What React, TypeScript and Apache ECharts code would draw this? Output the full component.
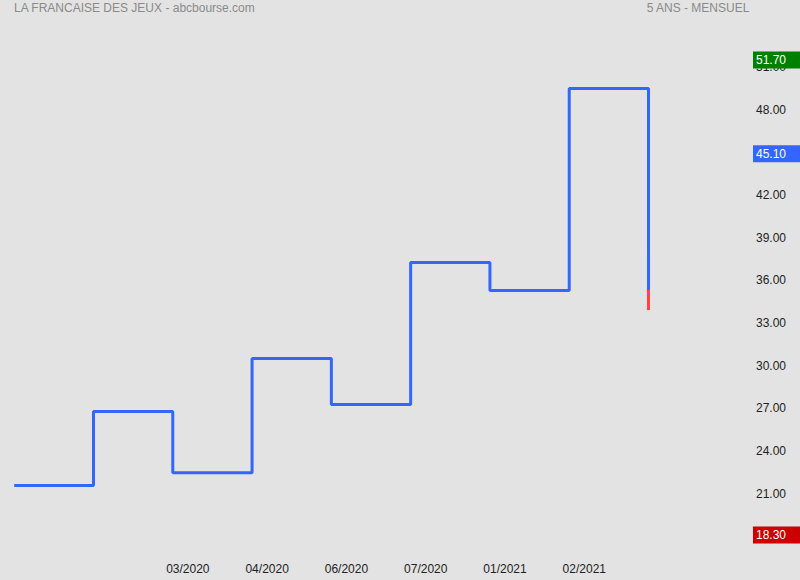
import React, { useEffect, useRef } from "react";
import * as echarts from "echarts";

const levels = [21.56, 26.77, 22.46, 30.49, 27.26, 37.24, 35.28, 49.48];
const lastBlueEnd = 35.31;
const lastLow = 33.9;
const xLabels = ["03/2020", "04/2020", "06/2020", "07/2020", "01/2021", "02/2021"];
const xLabelSegments = [2, 3, 4, 5, 6, 7];
const tagHigh = 51.7;
const tagLast = 45.1;
const tagLow = 18.3;

const FONT = "'Liberation Sans', Arial, sans-serif";

export default function App() {
  const ref = useRef<HTMLDivElement>(null);
  useEffect(() => {
    if (!ref.current) return;
    const chart = echarts.init(ref.current, undefined, { renderer: "svg" });
    const n = levels.length;
    const blueData: [number, number][] = levels.map((v, i) => [i, v]);
    blueData.push([n, lastBlueEnd]);
    const redData: [number, number][] = [
      [n, lastBlueEnd],
      [n, lastLow],
    ];
    const labelPos = xLabelSegments.map((s) => s + 0.19);
    const tag = (value: number, bg: string) => ({
      yAxis: value,
      lineStyle: { width: 1, color: "rgba(0,0,0,0)", type: "solid" },
      label: {
        show: true,
        position: "end",
        distance: 3,
        formatter: value.toFixed(2),
        backgroundColor: bg,
        color: "#ffffff",
        fontFamily: FONT,
        fontSize: 12,
        lineHeight: 13,
        padding: [2, 3, 2, 3],
        width: 41,
        align: "left",
        offset: [0, 3],
      },
    });
    chart.setOption({
      animation: false,
      backgroundColor: "#e3e3e3",
      textStyle: { fontFamily: FONT },
      title: [
        {
          text: "LA FRANCAISE DES JEUX - abcbourse.com",
          left: 14,
          top: 2,
          padding: 0,
          textStyle: { fontSize: 12, fontWeight: "normal", color: "#8a8a8a", fontFamily: FONT },
        },
        {
          text: "5 ANS - MENSUEL",
          right: 50,
          top: 2,
          padding: 0,
          textStyle: { fontSize: 12, fontWeight: "normal", color: "#8a8a8a", fontFamily: FONT },
        },
      ],
      grid: { left: 0, right: 50, top: 40, bottom: 43.8 },
      xAxis: {
        type: "value",
        min: -14.2 / 79.29,
        max: (750 - 14.2) / 79.29,
        axisLine: { show: false },
        axisTick: { show: false },
        splitLine: { show: false },
        axisLabel: {
          customValues: labelPos,
          margin: 27,
          color: "#222222",
          fontSize: 12,
          fontFamily: FONT,
          formatter: (v: number) => {
            const idx = labelPos.findIndex((p) => Math.abs(p - v) < 1e-6);
            return idx >= 0 ? xLabels[idx] : "";
          },
        },
      },
      yAxis: {
        type: "value",
        position: "right",
        min: 18,
        max: 52.89,
        interval: 3,
        axisLine: { show: false },
        axisTick: { show: false },
        splitLine: { show: false },
        axisLabel: {
          margin: 6,
          color: "#222222",
          fontSize: 12,
          fontFamily: FONT,
          showMinLabel: false,
          showMaxLabel: false,
          formatter: (v: number) => v.toFixed(2),
        },
      },
      series: [
        {
          type: "line",
          step: "end",
          data: blueData,
          symbol: "none",
          lineStyle: { color: "#3366ff", width: 3 },
          z: 3,
          markLine: {
            silent: true,
            symbol: "none",
            z: 10,
            data: [tag(tagHigh, "#008000"), tag(tagLast, "#3366ff"), tag(tagLow, "#cc0000")],
          },
        },
        {
          type: "line",
          data: redData,
          symbol: "none",
          lineStyle: { color: "#ff4444", width: 3 },
          z: 4,
        },
      ],
    });
    return () => chart.dispose();
  }, []);
  return (
    <div
      ref={ref}
      style={{ position: "fixed", left: 0, top: 0, width: 800, height: 580 }}
    />
  );
}
